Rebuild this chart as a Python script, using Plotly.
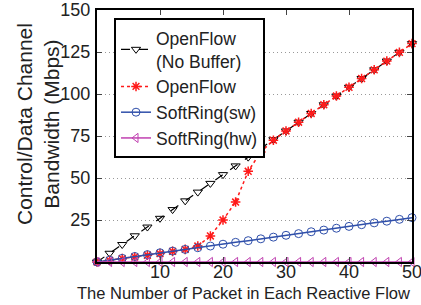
import plotly.graph_objects as go

x = list(range(0, 51, 2))
openflow_nobuf = [2.6 * v for v in x]
openflow = [0, 1, 2, 3, 4, 5, 6.3, 7.5, 9.5, 15.5, 25, 35.7, 54, 65.5, 72.5,
            78, 83.2, 88.4, 93.6, 98.8, 104, 109.2, 114.4, 119.6, 124.8, 130]
softring_sw = [0, 1.1, 2.2, 3.3, 4.4, 5.5, 6.5, 7.5, 8.5, 9.5, 10.6, 11.7, 12.7,
               13.8, 14.8, 15.9, 16.9, 18, 19, 20.1, 21.2, 22.2, 23.3, 24.3, 25.4, 26.4]
softring_hw = [0] * len(x)

y_ticks = [25, 50, 75, 100, 125, 150]
x_ticks = [10, 20, 30, 40, 50]

fig = go.Figure()
fig.add_trace(go.Scatter(x=x, y=openflow_nobuf, name="OpenFlow<br>(No Buffer)",
                         mode="lines+markers", cliponaxis=False,
                         line=dict(color="black", width=1.2, dash="dash"),
                         marker=dict(symbol="triangle-down-open", size=8, color="black")))
fig.add_trace(go.Scatter(x=x, y=openflow, name="OpenFlow",
                         mode="lines+markers", cliponaxis=False,
                         line=dict(color="#ff1a1a", width=1.5, dash="dot"),
                         marker=dict(symbol="asterisk-open", size=8, color="#ff1a1a",
                                     line=dict(color="#ff1a1a", width=1.5))))
fig.add_trace(go.Scatter(x=x, y=softring_sw, name="SoftRing(sw)",
                         mode="lines+markers", cliponaxis=False,
                         line=dict(color="#2f4faa", width=1.5),
                         marker=dict(symbol="circle-open", size=8, color="#2f4faa")))
fig.add_trace(go.Scatter(x=x, y=softring_hw, name="SoftRing(hw)",
                         mode="lines+markers", cliponaxis=False,
                         line=dict(color="#c040b0", width=1.5),
                         marker=dict(symbol="triangle-left-open", size=8, color="#c040b0")))

font = "Liberation Sans, Arial, sans-serif"
fig.update_layout(
    width=421, height=305,
    margin=dict(l=97, r=9, t=10, b=43),
    paper_bgcolor="white", plot_bgcolor="white",
    font=dict(family=font, size=18, color="#222"),
    showlegend=True,
    legend=dict(x=0.054, y=0.968, xanchor="left", yanchor="top",
                bgcolor="white", bordercolor="black", borderwidth=2,
                font=dict(size=17.5, family=font, color="#222"), tracegroupgap=0,
                itemwidth=30),
    xaxis=dict(range=[0, 50], tickvals=x_ticks, ticks="inside", ticklen=5,
               showline=True, linecolor="black", linewidth=2, mirror="allticks",
               showgrid=False, zeroline=False, ticklabelstandoff=-8,
               ticklabeloverflow="allow",
               automargin=False, tickfont=dict(size=18)),
    yaxis=dict(range=[0, 150], tickvals=y_ticks, ticks="inside", ticklen=5,
               showline=True, linecolor="black", linewidth=2, mirror="allticks",
               showgrid=True, gridcolor="#999", griddash="1px,3px", gridwidth=1,
               zeroline=False, ticklabelstandoff=1, ticklabeloverflow="allow",
               automargin=False, tickfont=dict(size=18)),
    annotations=[
        dict(text="The Number of Packet in Each Reactive Flow",
             xref="paper", yref="paper", x=1.0, y=-0.123,
             xanchor="right", yanchor="middle", showarrow=False,
             font=dict(size=16.5, family=font, color="#222")),
        dict(text="Control/Data Channel<br>Bandwidth (Mbps)",
             xref="paper", yref="paper", x=-(97 - 38) / 315, y=(262 - 124) / 252,
             xanchor="center", yanchor="middle", showarrow=False, textangle=-90,
             font=dict(size=21, family=font, color="#222")),
    ],
)

fig.write_html("out.html", config={"displayModeBar": False},
               post_script="document.body.style.margin='0';document.body.style.overflow='hidden';")
